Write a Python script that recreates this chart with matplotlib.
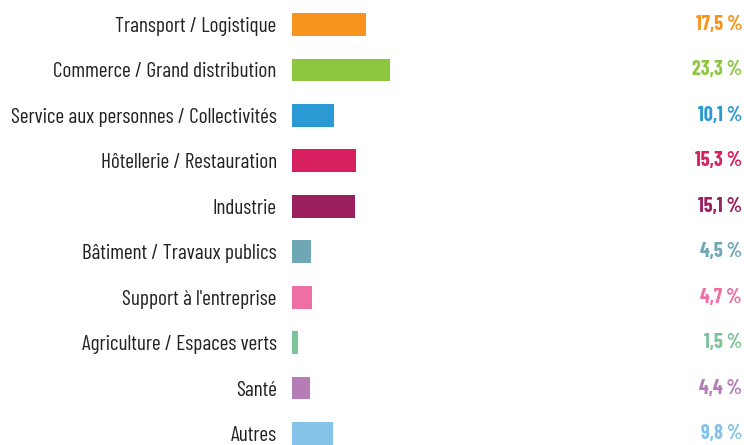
import matplotlib
matplotlib.use("Agg")
import matplotlib.pyplot as plt

# Données
secteurs = [
    "Transport / Logistique",
    "Commerce / Grand distribution",
    "Service aux personnes / Collectivités",
    "Hôtellerie / Restauration",
    "Industrie",
    "Bâtiment / Travaux publics",
    "Support à l'entreprise",
    "Agriculture / Espaces verts",
    "Santé",
    "Autres",
]
valeurs = [17.5, 23.3, 10.1, 15.3, 15.1, 4.5, 4.7, 1.5, 4.4, 9.8]
couleurs = ["#F7941D", "#8DC63F", "#2B9AD4", "#D81F5F", "#9B1F5E",
            "#6FA8B4", "#EE6FA3", "#7DC49A", "#B57DB5", "#85C4E8"]

plt.rcParams['font.family'] = ['Barlow Condensed', 'DejaVu Sans']

fig = plt.figure(figsize=(7.44, 4.45), dpi=100)
ax = fig.add_axes([292 / 744, 0, 452 / 744, 1])

pos = range(len(secteurs))
ax.barh(pos, valeurs, height=0.5, color=couleurs)

ax.set_ylim(9.253, -0.539)
ax.set_xlim(0, 452 / 4.2)
ax.set_yticks(list(pos))
ax.set_yticklabels(secteurs, fontsize=15.3, color="#222222")
ax.tick_params(axis='y', length=0, pad=11)
ax.set_xticks([])
for s in ax.spines.values():
    s.set_visible(False)

for i, (v, c) in enumerate(zip(valeurs, couleurs)):
    ax.text(450 / 452, i, f"{v:.1f} %".replace(".", ","), transform=ax.get_yaxis_transform(),
            ha='right', va='center', fontsize=14.5, fontweight='bold', color=c)

fig.savefig("out.png", dpi=100)
